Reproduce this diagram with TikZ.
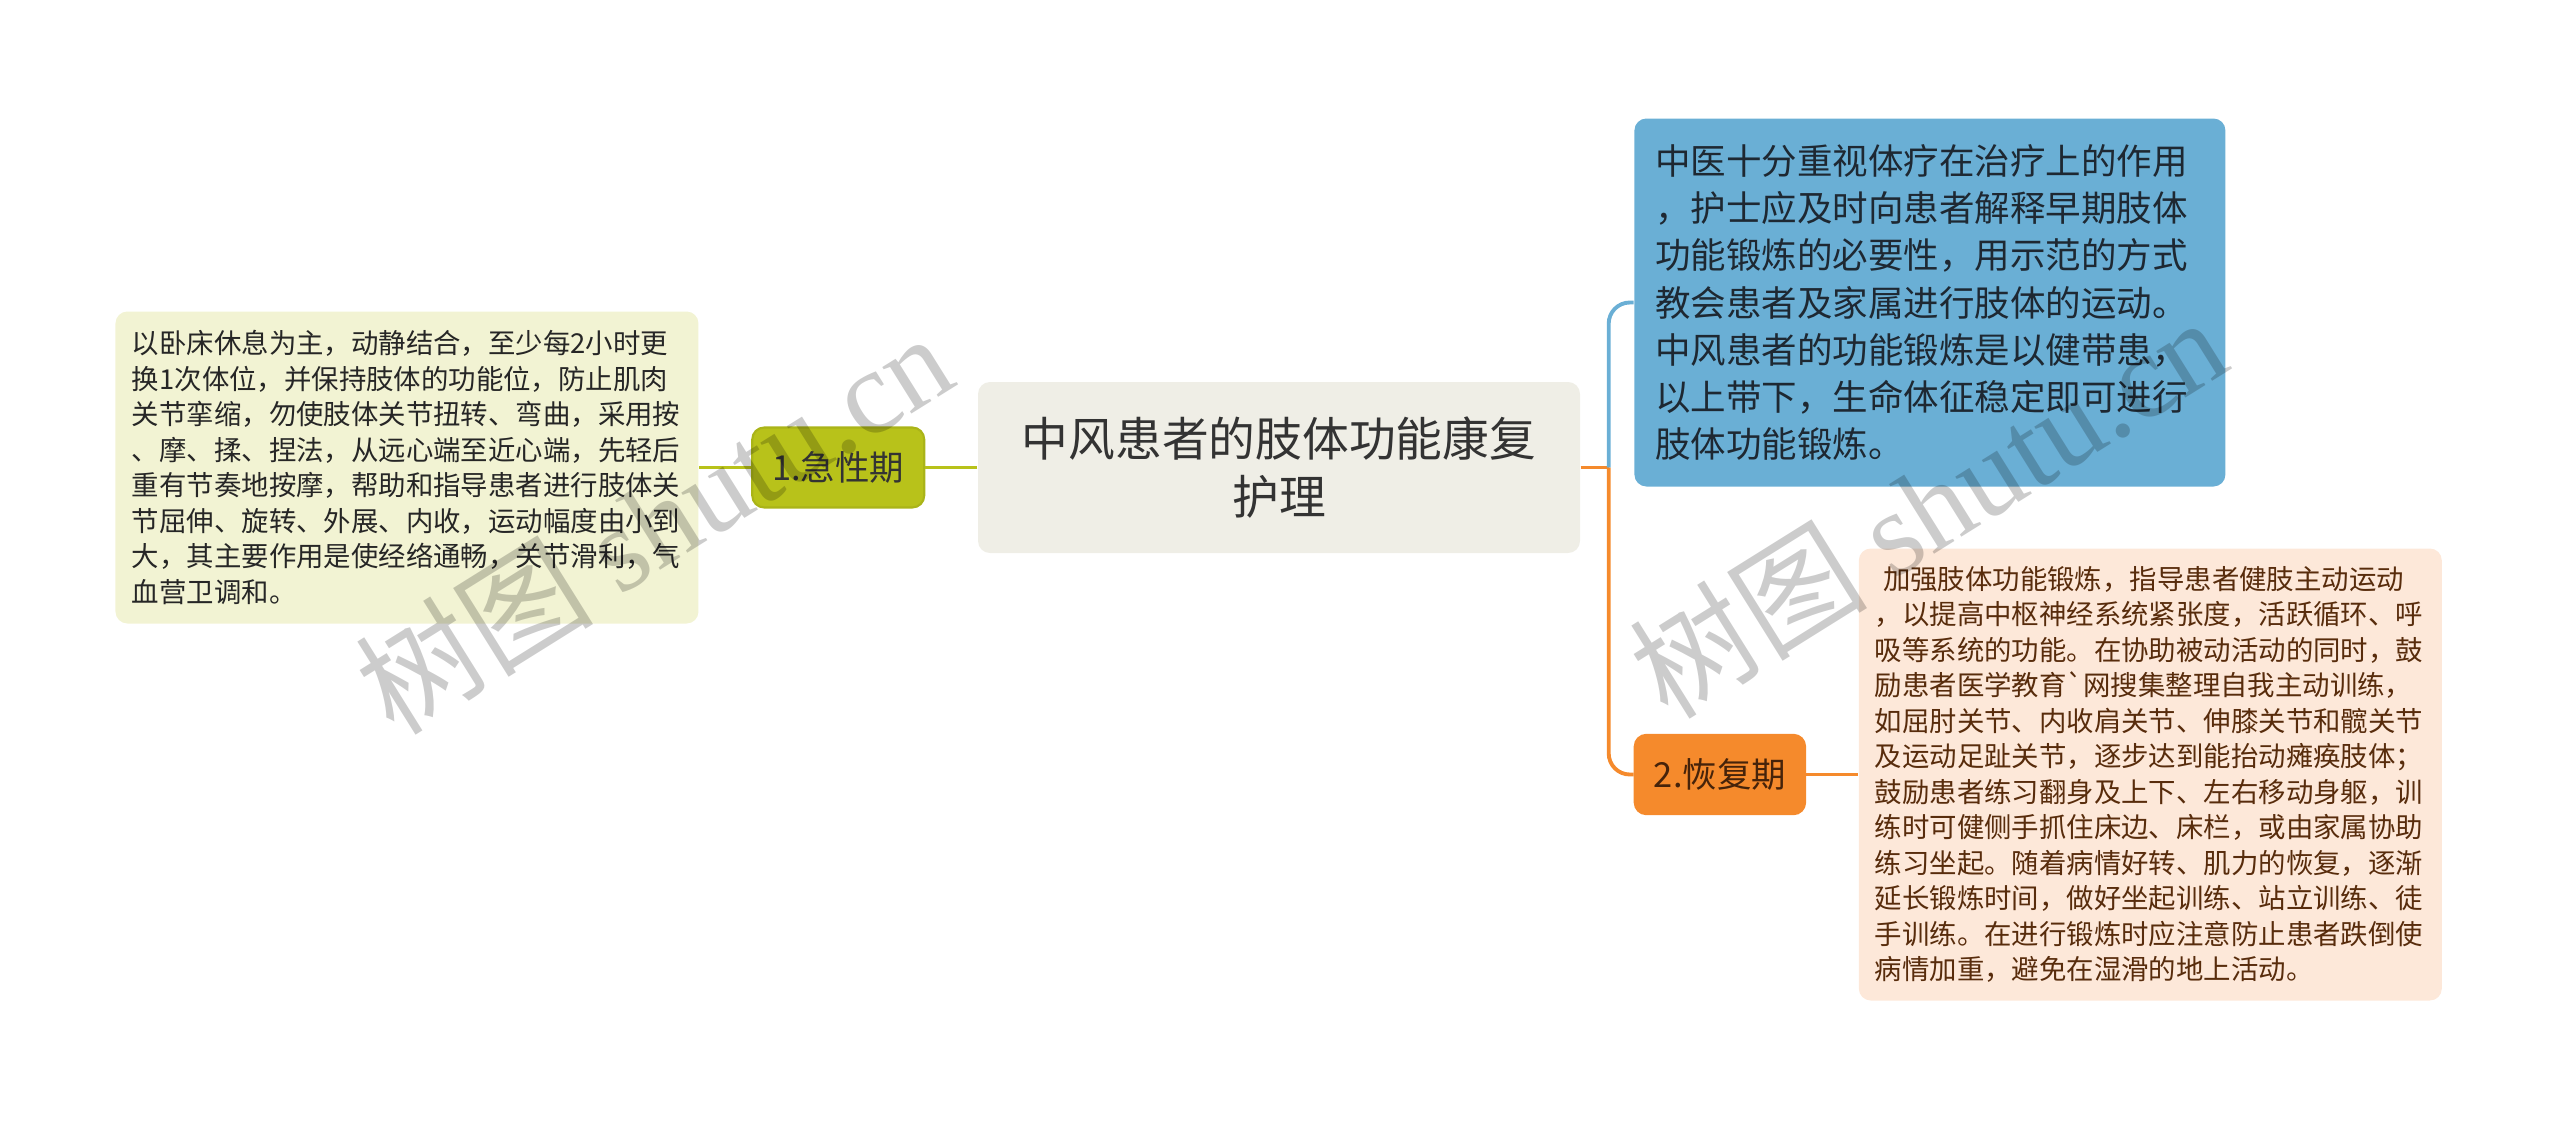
\documentclass[tikz,border=0pt]{standalone}
\usepackage{fontspec}
\setmainfont{Noto Sans CJK SC}
\newfontfamily\markfont{Liberation Serif}
\usepackage{tikz}
\usetikzlibrary{
  positioning
}
\definecolor{RootTint}{RGB}{239,238,230}
\definecolor{RootInk}{RGB}{51,51,51}
\definecolor{AcuteGreen}{RGB}{184,194,26}
\definecolor{AcuteEdge}{RGB}{170,180,24}
\definecolor{AcuteTint}{RGB}{242,243,211}
\definecolor{TcmBlue}{RGB}{106,175,213}
\definecolor{TcmInk}{RGB}{30,40,50}
\definecolor{RecoverOrange}{RGB}{245,138,44}
\definecolor{RecoverTint}{RGB}{253,232,217}
\definecolor{RecoverInk}{RGB}{88,44,12}
\tikzset{
  mbox/.style={
    rounded corners=3.4pt,
    inner ysep=1mm
  },
  rootbox/.style={mbox,fill=RootTint,text=RootInk,align=center,
    minimum width=6.02cm,minimum height=1.71cm,
    font=\fontsize{13.3pt}{16.7pt}\selectfont},
  stagebox/.style={mbox,minimum height=0.80cm,
    font=\fontsize{9.8pt}{11pt}\selectfont},
  notebox/.style={mbox,align=left,
    font=\fontsize{7.8pt}{10.1pt}\selectfont},
  acutebox/.style={stagebox,fill=AcuteGreen,draw=AcuteEdge,line width=0.6pt,
    text=RootInk,minimum width=1.72cm},
  recoverbox/.style={stagebox,fill=RecoverOrange,draw=RecoverOrange,
    text=RecoverInk!80!black,minimum width=1.71cm},
  acutenote/.style={notebox,fill=AcuteTint,text=black!85,
    text width=5.50cm,inner xsep=0.165cm,minimum height=3.12cm},
  tcmnote/.style={notebox,fill=TcmBlue,text=TcmInk,
    text width=5.49cm,inner xsep=0.21cm,minimum height=3.68cm,
    font=\fontsize{10.1pt}{13.45pt}\selectfont},
  recovernote/.style={notebox,fill=RecoverTint,text=RecoverInk,
    text width=5.51cm,inner xsep=0.16cm,minimum height=4.52cm},
  link/.style={line width=1.1pt},
  greenlink/.style={link,draw=AcuteGreen},
  bluelink/.style={link,draw=TcmBlue,rounded corners=6pt},
  orangelink/.style={link,draw=RecoverOrange,rounded corners=6pt},
  watermark/.style={rotate=32,text=black,text opacity=0.2,
    font=\fontsize{34pt}{34pt}\selectfont}
}
\begin{document}
\begin{tikzpicture}[node distance=0.52cm]
  \useasboundingbox (0,0) rectangle (25.6,-11.23);

  \node[rootbox] (root) at (12.79,-4.675) {中风患者的肢体功能康复\\护理};

  % left branch
  \node[acutebox, left=of root] (acute) {1.急性期};
  \node[acutenote, left=of acute] (acutenote) {以卧床休息为主，动静结合，至少每2小时更\\
    换1次体位，并保持肢体的功能位，防止肌肉\\
    关节挛缩，勿使肢体关节扭转、弯曲，采用按\\
    、摩、揉、捏法，从远心端至近心端，先轻后\\
    重有节奏地按摩，帮助和指导患者进行肢体关\\
    节屈伸、旋转、外展、内收，运动幅度由小到\\
    大，其主要作用是使经络通畅，关节滑利，气\\
    血营卫调和。};

  % right branch
  \node[tcmnote, right=0.53cm of root, yshift=1.65cm] (tcm) {中医十分重视体疗在治疗上的作用\\
    ，护士应及时向患者解释早期肢体\\
    功能锻炼的必要性，用示范的方式\\
    教会患者及家属进行肢体的运动。\\
    中风患者的功能锻炼是以健带患，\\
    以上带下，生命体征稳定即可进行\\
    肢体功能锻炼。};
  \node[recoverbox, right=0.53cm of root, yshift=-3.07cm] (recover) {2.恢复期};
  \node[recovernote, right=of recover] (recovernote) {\hspace*{0.3em}加强肢体功能锻炼，指导患者健肢主动运动\\
    ，以提高中枢神经系统紧张度，活跃循环、呼\\
    吸等系统的功能。在协助被动活动的同时，鼓\\
    励患者医学教育\textasciigrave 网搜集整理自我主动训练，\\
    如屈肘关节、内收肩关节、伸膝关节和髋关节\\
    及运动足趾关节，逐步达到能抬动瘫痪肢体；\\
    鼓励患者练习翻身及上下、左右移动身躯，训\\
    练时可健侧手抓住床边、床栏，或由家属协助\\
    练习坐起。随着病情好转、肌力的恢复，逐渐\\
    延长锻炼时间，做好坐起训练、站立训练、徒\\
    手训练。在进行锻炼时应注意防止患者跌倒使\\
    病情加重，避免在湿滑的地上活动。};

  \coordinate[right=0.28cm of root] (fork);

  \draw[greenlink] (root) -- (acute);
  \draw[greenlink] (acute) -- (acutenote);
  \draw[orangelink] (root.east) -- (fork);
  \draw[bluelink] (fork) |- (tcm.west);
  \draw[orangelink] (fork) |- (recover.west);
  \draw[orangelink] (recover) -- (recovernote);

  % watermarks
  \node[watermark] (markleft) at (6.53,-5.22) {树图 {\markfont shutu.cn}};
  \node[watermark] (markright) at (19.27,-5.06) {树图 {\markfont shutu.cn}};
\end{tikzpicture}
\end{document}
